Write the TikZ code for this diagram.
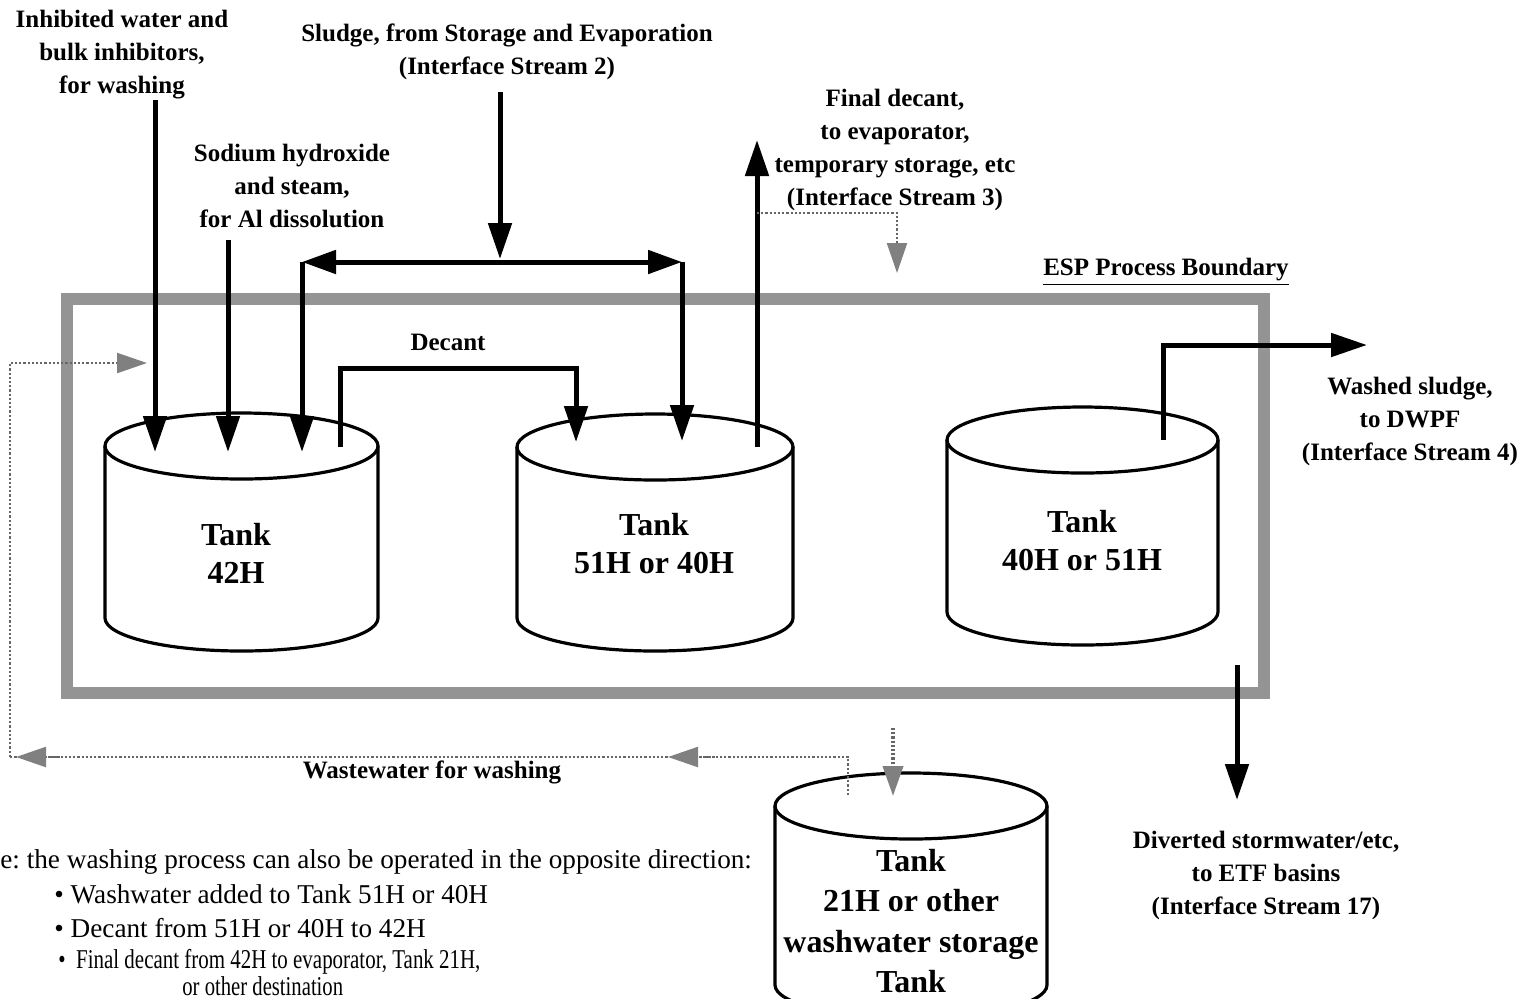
\documentclass[tikz,border=0pt]{standalone}
\usepackage{fontspec}
\setmainfont{Liberation Serif}
\usetikzlibrary{arrows.meta}
\frenchspacing

\tikzset{
  flow/.style={line width=2.5pt, -{Triangle[width=11.5pt,length=18pt]}},
  flowboth/.style={line width=2.5pt, {Triangle[width=11.5pt,length=17pt]}-{Triangle[width=11.5pt,length=17pt]}},
  pipe/.style={line width=2.5pt},
  tankline/.style={line width=1.6pt},
  boundary/.style={line width=6pt, draw=black!42},
  recycle/.style={line width=1.1pt, draw=black!60, densely dotted},
  graytip/.style={line width=1.1pt, draw=black!60, densely dotted,
    -{Triangle[width=10pt,length=15pt,color=black!50]}},
  lbl/.style={font=\bfseries\fontsize{12.5}{16.5}\selectfont, align=center, inner sep=0pt},
  tanklbl/.style={font=\bfseries\fontsize{16}{19}\selectfont, align=center, inner sep=0pt},
  note/.style={font=\fontsize{13.6}{16.5}\selectfont, inner sep=0pt, anchor=west},
}

% cylinder: centre x, top-ellipse y, bottom y, x radius, y radius
\newcommand\drawtank[5]{%
  \draw[tankline] (#1,#2) ellipse [x radius=#4, y radius=#5];
  \draw[tankline] (#1-#4,#2) -- (#1-#4,#3)
    arc[start angle=180, end angle=0, x radius=#4, y radius=#5] -- (#1+#4,#2);
}

\begin{document}
\begin{tikzpicture}[x=0.5pt,y=-0.5pt]
\useasboundingbox (0,0) rectangle (1520,998);
\clip (0,0) rectangle (1520,998);

% process boundary
\draw[boundary] (67,299) rectangle (1264,693);
\node[lbl] (esp) at (1166,272) {\underline{ESP Process Boundary}};

% tanks
\drawtank{241.5}{446}{618}{136.5}{33}
\drawtank{655}{447}{618}{138}{33}
\drawtank{1082.5}{440}{612}{135.5}{33}
\drawtank{911}{806}{985}{136}{33}
\node[tanklbl] (t42) at (236,553) {Tank\\42H};
\node[tanklbl] (t51) at (654,544) {Tank\\51H or 40H};
\node[tanklbl] (t40) at (1082,541) {Tank\\40H or 51H};
\node[tanklbl] (t21) at (911,921) {Tank\\[1.2pt]21H or other\\[1.2pt]washwater storage\\[1.2pt]Tank};

% stream labels
\node[lbl] (inh) at (122,55) {Inhibited water and\\bulk inhibitors,\\for washing};
\node[lbl] (naoh) at (292,186) {Sodium hydroxide\\and steam,\\for Al dissolution};
\node[lbl] (sludge) at (507,52) {Sludge, from Storage and Evaporation\\(Interface Stream 2)};
\node[lbl] (final) at (895,150) {Final decant,\\to evaporator,\\temporary storage, etc\\(Interface Stream 3)};
\node[lbl] (decant) at (448,342) {Decant};
\node[lbl] (washed) at (1410,421) {Washed sludge,\\to DWPF\\(Interface Stream 4)};
\node[lbl] (divert) at (1266,875) {Diverted stormwater/etc,\\to ETF basins\\(Interface Stream 17)};
\node[lbl] (waste) at (432,772) {Wastewater for washing};

% connector end points
\coordinate (inhS) at (155,100);   \coordinate (inhE) at (155,452);
\coordinate (naS) at (228,240);    \coordinate (naE) at (228,452);
\coordinate (slS) at (500,92);     \coordinate (slE) at (500,259);
\coordinate (spL) at (302,262);    \coordinate (spR) at (682,262);
\coordinate (spLE) at (302,452);   \coordinate (spRE) at (682,441);
\coordinate (decS) at (340,447);   \coordinate (decE) at (576,442);
\coordinate (finS) at (757,447);   \coordinate (finE) at (757,140);
\coordinate (finB) at (757,213);   \coordinate (finD) at (897,273);
\coordinate (wsS) at (1163,440);   \coordinate (wsE) at (1367,345);
\coordinate (dvS) at (1237,665);   \coordinate (dvE) at (1237,800);
\coordinate (wwS) at (848,795);    \coordinate (wwC) at (10,757);
\coordinate (wwE) at (147,363);
\coordinate (inS) at (893,728);    \coordinate (inE) at (893,796);

% feed streams
\draw[flow] (inhS) -- (inhE);
\draw[flow] (naS) -- (naE);
\draw[flow] (slS) -- (slE);
\draw[flowboth] (spL) -- (spR);
\draw[flow] (spL) -- (spLE);
\draw[flow] (spR) -- (spRE);

% decant and outlet streams
\draw[flow] (decS) |- (448,368) -| (decE);
\draw[flow] (finS) -- (finE);
\draw[flow] (wsS) |- (wsE);
\draw[flow] (dvS) -- (dvE);

% wash water recycle (dotted)
\draw[graytip] (finB) -| (finD);
\draw[recycle] (wwS) |- (wwC);
\draw[graytip] (wwC) |- (wwE);
\draw[graytip] (60,757) -- (16,757);
\draw[graytip] (715,757) -- (668,757);
\draw[graytip, line width=2pt] (inS) -- (inE);

% note on reverse operation
\node[note] (n0) at (0,862) {e: the washing process can also be operated in the opposite direction:};
\node[note] (n1) at (54,894) {\textbullet\ Washwater added to Tank 51H or 40H};
\node[note] (n2) at (54,928) {\textbullet\ Decant from 51H or 40H to 42H};
\node[note] (n3) at (58,962) {\scalebox{0.77}[1]{\textbullet\ \ Final decant from 42H to evaporator, Tank 21H,}};
\node[note, anchor=base west] (n4) at (182,995) {\scalebox{0.76}[1]{or other destination}};
\end{tikzpicture}
\end{document}
